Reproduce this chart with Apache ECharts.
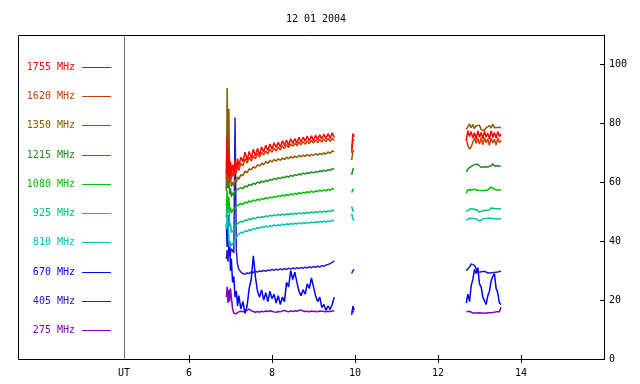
<!DOCTYPE html>
<html><head><meta charset="utf-8">
<script src="https://cdn.jsdelivr.net/npm/echarts@6/dist/echarts.min.js"></script>
<style>html,body{margin:0;padding:0;background:#fff}#c{width:640px;height:384px}</style>
</head><body><div id="c"></div>
<script>
const chartTitle = '12 01 2004';
const xAxisName = 'UT';
const xTickValues = [6, 8, 10, 12, 14];
const yTickInterval = 20;

const times = [6.90,6.92,6.94,6.96,6.98,7.00,7.02,7.05,7.08,7.11,7.14,7.17,7.20,
  7.25,7.30,7.35,7.40,7.45,7.50,7.55,7.60,7.65,7.70,
  7.75,7.80,7.85,7.90,7.95,8.00,8.05,8.10,8.15,8.20,
  8.25,8.30,8.35,8.40,8.45,8.50,8.55,8.60,8.65,8.70,
  8.75,8.80,8.85,8.90,8.95,9.00,9.05,9.10,9.15,9.20,
  9.25,9.30,9.35,9.40,9.45,9.50,
  9.70,
  9.92,9.95,9.98,
  11.00,
  12.68,12.72,12.76,12.80,12.84,12.88,12.92,12.96,13.00,13.04,13.08,
  13.12,13.16,13.20,13.24,13.28,13.32,13.36,13.40,13.44,13.48,13.52];

const freqNames = ['1755 MHz','1620 MHz','1350 MHz','1215 MHz','1080 MHz','925 MHz','810 MHz','670 MHz','405 MHz','275 MHz'];
const freqColors = ['#ff0000','#c84000','#8c5a00','#228b22','#00c000','#00c080','#00c0c0','#0000ff','#2020c0','#8000c0'];

const v1755 = [63,75,62,70,61.5,67,62.5,66,63.5,67.5,64.5,68,65.5,
  68.5,67,70.2,67.5,70.5,68.2,71.2,69,71.5,69.3,
  72,70.3,72.6,70.8,73,71.3,73.4,71.8,73.6,72,
  74.1,72.5,74.3,72.6,74.8,73.2,74.8,73.3,75.3,73.6,
  75.3,73.9,75.6,74,75.8,74.1,76,74.4,76.1,74.6,
  76.3,74.8,76.5,74.9,76.8,75.2,
  null,
  71,76.5,75.5,
  null,
  74,77.5,75.5,77.2,75,76.8,74.6,77.4,75.3,76.9,74.8,77.3,75.4,76.6,74.7,77.5,75.2,76.9,75,77.2,75.5,76.4];
const v1620 = [61,68,60.5,66,60,64,61,63.5,62,65,63,66,64,
  66.5,65.5,68,66.5,68.5,67.2,69,68,69.8,68.5,
  70.2,69.2,70.6,69.6,71.2,70.2,71.6,70.6,72,71,
  72.4,71.4,72.8,71.8,73,72.2,73.3,72.4,73.6,72.7,
  73.8,72.9,74,73.1,74.2,73.3,74.3,73.5,74.5,73.6,
  74.7,73.8,74.9,73.9,75,74.2,
  null,
  70,74.5,74,
  null,
  75,72.5,71.3,72,73.6,75,73.2,74.9,73,75.1,72.7,75.2,73.4,74.8,72.5,75,73.3,74.6,72.6,75.1,73.5,74.2];
const v1350 = [58,92,63,85,60,62,58.5,60,58.8,61,60,61.8,61,
  62.6,62.2,63.8,63.2,64.6,64.2,65.3,64.8,66,65.5,
  66.5,66,67,66.4,67.4,66.9,67.7,67.2,68,67.4,
  68.2,67.7,68.5,68,68.7,68.2,68.9,68.4,69.1,68.6,
  69.2,68.8,69.4,68.9,69.5,69.1,69.7,69.2,69.8,69.4,
  70,69.6,70.3,69.8,70.6,70.4,
  null,
  67.5,70.5,70.8,
  null,
  78,78.8,79.8,78.5,79.6,78.2,79.2,78.6,79.4,77.8,78.3,77.6,78.5,78,79.2,78.4,79.8,78.5,79,78.6,78.9,78.6];
const v1215 = [57,62,58,61,56,58,55,56.5,55.5,57,56.4,57.6,57,
  58.2,57.8,58.8,58.4,59.3,58.9,59.7,59.3,60.1,59.7,
  60.4,60,60.7,60.3,61,60.7,61.3,60.9,61.6,61.2,
  61.8,61.5,62.1,61.7,62.4,62,62.6,62.3,62.9,62.5,
  63.1,62.8,63.3,63,63.5,63.2,63.7,63.4,63.9,63.6,
  64.1,63.8,64.3,64,64.6,64.4,
  null,
  62.5,64.5,64.6,
  null,
  63.5,64.5,64.8,65.4,65.6,66,65.8,66.1,65.5,65,64.8,65.3,64.7,65.2,64.9,65.6,66.3,65.5,64.9,65.6,65.2,65.4];
const v1080 = [52,57,51,55,50,51.5,49.5,50.5,50,51.3,51,52.2,51.8,
  52.8,52.4,53.3,52.9,53.7,53.3,54,53.6,54.3,53.9,
  54.5,54.2,54.8,54.4,55,54.7,55.2,54.9,55.5,55.1,
  55.7,55.3,55.9,55.5,56.1,55.7,56.3,55.9,56.5,56.1,
  56.6,56.3,56.8,56.5,57,56.6,57.1,56.8,57.3,57,
  57.4,57.1,57.6,57.3,57.9,57.6,
  null,
  56.5,57.5,57.6,
  null,
  56.2,57.5,57.8,57.4,57.9,57.6,57.8,57.3,57.6,57.2,57.5,57.2,57.6,57.4,57.9,58.4,58.1,57.6,57.9,57.4,57.6,57.4];
const v925 = [48,56,49.5,53,45,46,43,42.5,43.8,44.5,45.5,45.8,46.3,
  46.7,46.5,47.2,47,47.6,47.3,47.9,47.6,48.2,47.9,
  48.4,48.1,48.6,48.3,48.8,48.5,48.9,48.6,49.1,48.8,
  49.2,48.9,49.3,49,49.4,49.1,49.5,49.2,49.6,49.3,
  49.7,49.4,49.8,49.5,49.9,49.6,50,49.7,50.1,49.8,
  50.2,49.9,50.3,50,50.5,50.3,
  null,
  51.8,50.2,50.4,
  null,
  50,50.6,50.9,50.6,50.9,50.4,50.7,50.2,49.9,50.5,50.3,50.8,50.5,50.9,50.6,51.3,50.8,51.1,50.6,51,50.7,50.9];
const v810 = [44,49,46,40,38,39.5,38.5,39,39.8,40.5,41.3,42,42.4,
  43,42.8,43.5,43.3,43.9,43.7,44.3,44.1,44.6,44.4,
  44.9,44.6,45.1,44.8,45.3,45,45.5,45.2,45.6,45.3,
  45.8,45.5,45.9,45.6,46,45.7,46.1,45.8,46.2,45.9,
  46.3,46,46.4,46.1,46.5,46.2,46.6,46.3,46.7,46.4,
  46.8,46.5,46.9,46.6,47.1,46.9,
  null,
  49.4,47.5,47,
  null,
  47,47.5,47.8,47.4,47.7,47.2,47.6,47.1,46.8,47.3,47.6,47.3,47.7,47.4,47.9,48.2,47.7,48,47.5,47.8,47.5,47.8];
const v670 = [46,38,49,36,40,30,34,26,28,21,23,18,21.5,
  17,19.5,15.5,18,24,27,35,28,23,21,
  23.5,20,22.5,19.5,23,20.5,22,19,21.5,18.5,
  21,19.5,26,24.5,30,27,29.5,26,23,21.5,
  23.5,22,25.5,24,27.5,24.5,21.5,19.5,21,17.5,
  18.5,16.5,18,16.8,18.5,21,
  null,
  15,18,16.5,
  null,
  19,22,19.5,25,27,30.5,29,31,25.5,24.5,21,21.5,18.5,21.5,23,26.5,28,29,24,22.5,19,18.5];
const v405 = [34,37,33,38,35,36,37.5,38,36,82,37,32,30.5,
  29.5,29,28.8,29.2,29,29.6,29.3,29.8,29.5,29.9,
  29.7,30.1,29.8,30.2,30,30.4,30.1,30.5,30.2,30.6,
  30.3,30.7,30.4,30.8,30.5,30.9,30.6,31,30.7,31.1,
  30.8,31.2,30.9,31.3,31,31.4,31.1,31.5,31.2,31.7,
  31.5,31.9,32.1,32.4,32.8,33.3,
  null,
  29,30,30.5,
  null,
  30,30.6,31.2,32.3,32.9,31.8,30.6,29.4,29,29.6,29.3,29.8,29.5,29.2,29.6,29.3,29.6,29.4,29.7,29.5,29.8,29.9];
const v275 = [21,24.5,19,23.5,19.5,24,21,17,15.5,15,15.4,15.8,16,
  16.2,16,16.3,16.5,16.9,16.4,16.1,15.9,16.1,15.9,
  16.2,16,16.3,16.1,16.4,16.2,16,15.9,16.1,16,
  16.3,16.5,16.2,16,16.3,16.1,16.4,16.2,16.5,16.6,
  16.3,16.1,16.2,16,16.3,16.1,16.2,16,16.3,16.2,
  16.1,16,16.2,16.1,16.3,16.3,
  null,
  16,16.2,16,
  null,
  16,16.4,16.2,15.8,15.6,15.7,15.6,15.5,15.7,15.6,15.5,15.6,15.6,15.8,15.7,15.9,15.8,15.9,16,16.1,16,17.6];

const seriesValues = [v1755, v1620, v1350, v1215, v1080, v925, v810, v670, v405, v275];

// ---- layout ----
const FONT = '"DejaVu Sans Mono", "Liberation Mono", monospace';
const gridL = 124, gridR = 604, gridT = 35, gridB = 359;
const xMax = 16, pxPerHour = 41.5;
const xMin = xMax - (gridR - gridL) / pxPerHour;
const yMin = 0, yMax = 110;

const chart = echarts.init(document.getElementById('c'), null, {renderer: 'canvas'});

const series = [];
for (let i = seriesValues.length - 1; i >= 0; i--) {
  const vals = seriesValues[i];
  series.push({
    name: freqNames[i],
    type: 'line',
    xAxisIndex: 0, yAxisIndex: 0,
    showSymbol: false,
    connectNulls: false,
    lineStyle: {color: freqColors[i], width: 1.5},
    itemStyle: {color: freqColors[i]},
    data: times.map((t, k) => [t, vals[k]]),
    animation: false
  });
}

const graphics = [{
  type: 'rect',
  shape: {x: 18.5, y: gridT + 0.5, width: gridR - 18, height: gridB - gridT},
  style: {fill: 'none', stroke: '#000', lineWidth: 1},
  z: 10
}];
const legTop = 67, legStep = 29.22;
freqNames.forEach((n, i) => {
  const yy = Math.round(legTop + i * legStep);
  graphics.push({
    type: 'text', x: 75, y: yy + 0.5,
    style: {text: n, fill: freqColors[i], font: '10px ' + FONT, align: 'right', verticalAlign: 'middle'}
  });
  graphics.push({
    type: 'line',
    shape: {x1: 82, y1: yy + 0.5, x2: 111, y2: yy + 0.5},
    style: {stroke: freqColors[i], lineWidth: 1}
  });
});

chart.setOption({
  animation: false,
  backgroundColor: '#fff',
  title: {
    text: chartTitle, left: 311, top: 9, textAlign: 'center',
    textStyle: {fontFamily: FONT, fontSize: 10, fontWeight: 'normal', color: '#000'}
  },
  grid: {left: gridL, right: 640 - gridR, top: gridT, bottom: 384 - gridB, containLabel: false},
  xAxis: [{
    type: 'value', position: 'bottom', min: xMin, max: xMax,
    axisLine: {lineStyle: {color: '#000', width: 1}},
    axisTick: {inside: true, length: 4, customValues: xTickValues, lineStyle: {color: '#000'}},
    axisLabel: {
      customValues: [xMin].concat(xTickValues), margin: 9,
      fontFamily: FONT, fontSize: 10, color: '#000',
      formatter: v => (Math.abs(v - xMin) < 1e-6 ? xAxisName : String(v))
    },
    splitLine: {show: false}
  }, {
    type: 'value', position: 'top', min: xMin, max: xMax,
    axisLine: {lineStyle: {color: '#000', width: 1}},
    axisTick: {inside: true, length: 4, customValues: xTickValues, lineStyle: {color: '#000'}},
    axisLabel: {show: false},
    splitLine: {show: false}
  }],
  yAxis: [{
    type: 'value', position: 'right', min: yMin, max: yMax, interval: yTickInterval,
    axisLine: {show: true, lineStyle: {color: '#000', width: 1}},
    axisTick: {show: true, inside: true, length: 4, lineStyle: {color: '#000'}},
    axisLabel: {margin: 5, fontFamily: FONT, fontSize: 10, color: '#000', showMaxLabel: false},
    splitLine: {show: false}
  }, {
    type: 'value', position: 'left', min: yMin, max: yMax, interval: yTickInterval,
    axisLine: {show: true, lineStyle: {color: '#707070', width: 1}},
    axisTick: {show: false},
    axisLabel: {show: false},
    splitLine: {show: false}
  }],
  graphic: graphics,
  series: series
});
</script>
</body></html>
